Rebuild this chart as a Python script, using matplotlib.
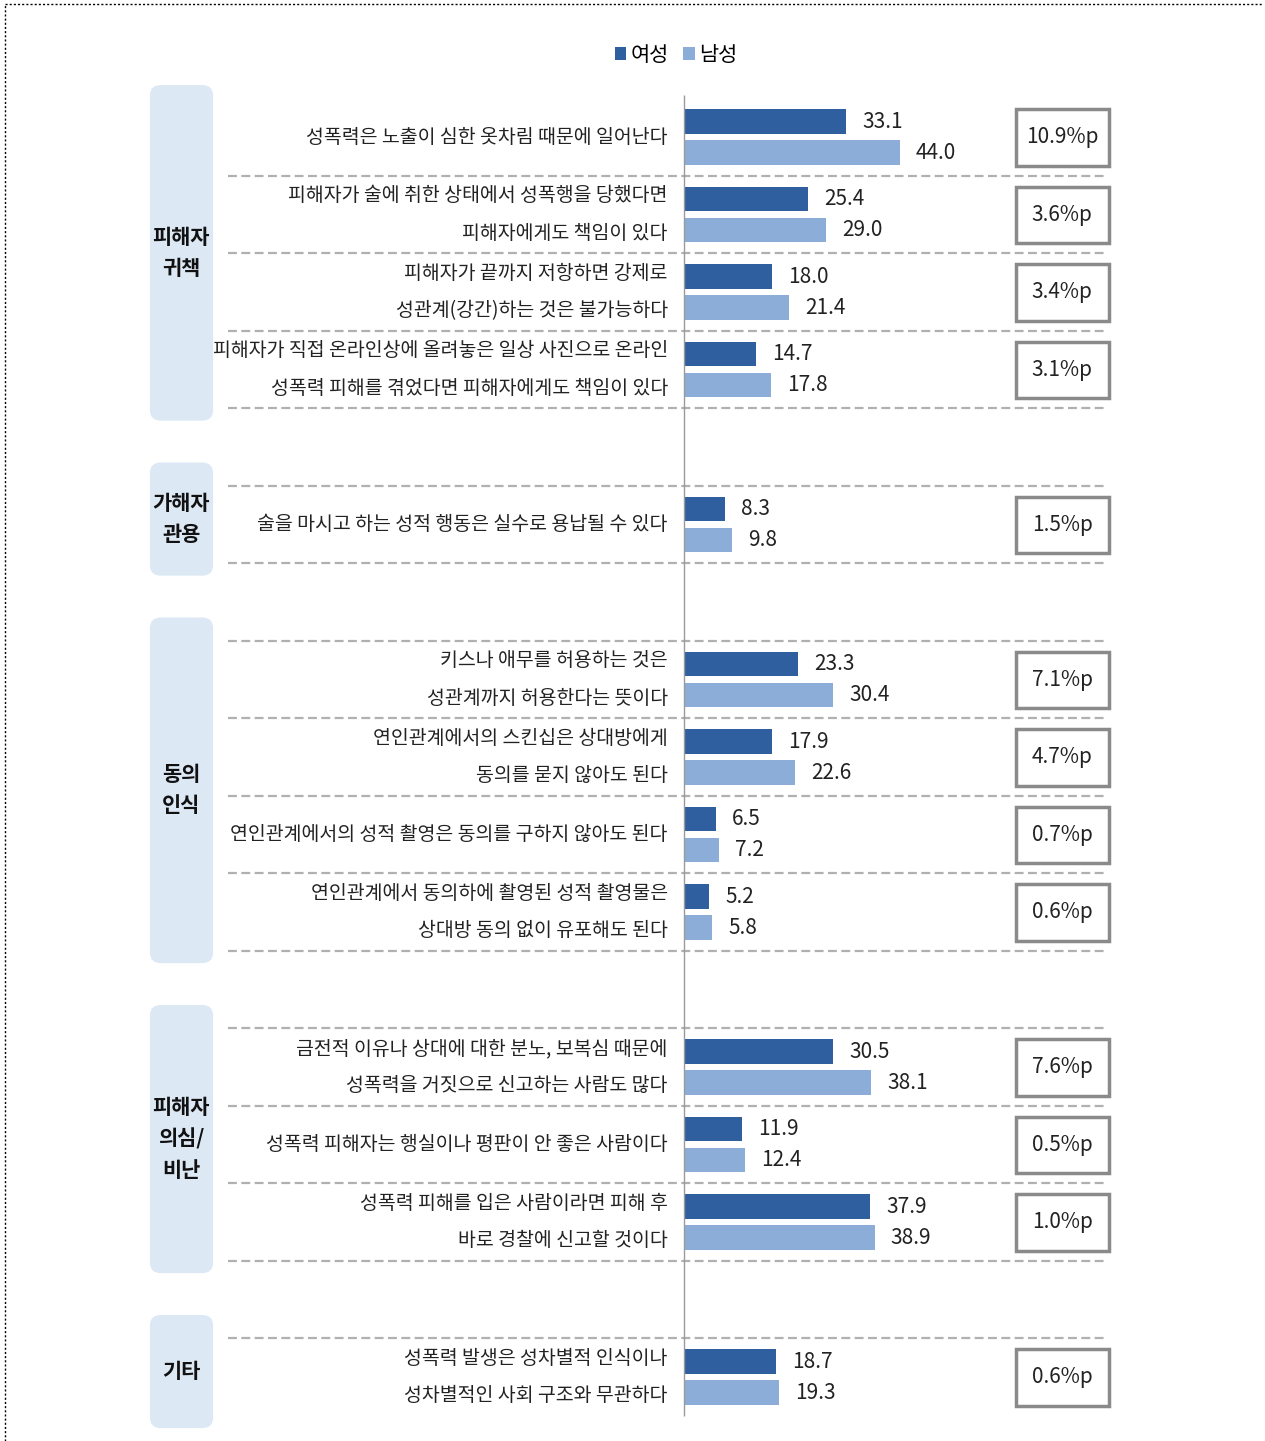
import matplotlib
matplotlib.use("Agg")
import matplotlib.pyplot as plt
from matplotlib.patches import FancyBboxPatch, Rectangle, Patch
from matplotlib.lines import Line2D

plt.rcParams["font.family"] = ["Noto Sans CJK KR", "DejaVu Sans"]

# ---- data ----
groups = ["피해자\n귀책", "가해자\n관용", "동의\n인식", "피해자\n의심/\n비난", "기타"]
group_sizes = [4, 1, 4, 3, 1]
items = [
    "성폭력은 노출이 심한 옷차림 때문에 일어난다",
    "피해자가 술에 취한 상태에서 성폭행을 당했다면\n피해자에게도 책임이 있다",
    "피해자가 끝까지 저항하면 강제로\n성관계(강간)하는 것은 불가능하다",
    "피해자가 직접 온라인상에 올려놓은 일상 사진으로 온라인\n성폭력 피해를 겪었다면 피해자에게도 책임이 있다",
    "술을 마시고 하는 성적 행동은 실수로 용납될 수 있다",
    "키스나 애무를 허용하는 것은\n성관계까지 허용한다는 뜻이다",
    "연인관계에서의 스킨십은 상대방에게\n동의를 묻지 않아도 된다",
    "연인관계에서의 성적 촬영은 동의를 구하지 않아도 된다",
    "연인관계에서 동의하에 촬영된 성적 촬영물은\n상대방 동의 없이 유포해도 된다",
    "금전적 이유나 상대에 대한 분노, 보복심 때문에\n성폭력을 거짓으로 신고하는 사람도 많다",
    "성폭력 피해자는 행실이나 평판이 안 좋은 사람이다",
    "성폭력 피해를 입은 사람이라면 피해 후\n바로 경찰에 신고할 것이다",
    "성폭력 발생은 성차별적 인식이나\n성차별적인 사회 구조와 무관하다",
]
women = [33.1, 25.4, 18.0, 14.7, 8.3, 23.3, 17.9, 6.5, 5.2, 30.5, 11.9, 37.9, 18.7]
men = [44.0, 29.0, 21.4, 17.8, 9.8, 30.4, 22.6, 7.2, 5.8, 38.1, 12.4, 38.9, 19.3]
gaps = ["10.9%p", "3.6%p", "3.4%p", "3.1%p", "1.5%p", "7.1%p", "4.7%p",
        "0.7%p", "0.6%p", "7.6%p", "0.5%p", "1.0%p", "0.6%p"]
series = ["여성", "남성"]

C_W = "#2f5f9f"
C_M = "#8badd8"
C_CAT = "#dde8f5"
C_DASH = "#b0b0b0"

# row positions: one step inside a group, two steps between groups
pos, group_rows, y = [], [], 0
for n in group_sizes:
    rows = list(range(y, y + n))
    group_rows.append(rows)
    pos += rows
    y += n + 1

W, H = 1265, 1441
fig = plt.figure(figsize=(W / 100, H / 100), dpi=100)
ax = fig.add_axes([0, 0, 1, 1])
px_x, px_y, x0, y0 = 4.9, 77.5, 684, 137   # px per unit, zero position
ax.set_xlim(-x0 / px_x, (W - x0) / px_x)
ax.set_ylim((H - y0) / px_y, -y0 / px_y)
ax.axis("off")

bh = 0.32
ax.barh([p - 0.2 for p in pos], women, height=bh, color=C_W, zorder=3)
ax.barh([p + 0.2 for p in pos], men, height=bh, color=C_M, zorder=3)

for p, w, m, lab, g in zip(pos, women, men, items, gaps):
    ax.text(w + 3.3, p - 0.2, f"{w:.1f}", va="center", ha="left", fontsize=15, color="#222222")
    ax.text(m + 3.3, p + 0.2, f"{m:.1f}", va="center", ha="left", fontsize=15, color="#222222")
    lines = lab.split("\n")
    if len(lines) == 1:
        ax.text(-3.3, p, lab, va="center", ha="right", fontsize=14, color="#222222")
    else:
        ax.text(-3.3, p - 0.24, lines[0], va="center", ha="right", fontsize=14, color="#222222")
        ax.text(-3.3, p + 0.24, lines[1], va="center", ha="right", fontsize=14, color="#222222")
    ax.add_patch(Rectangle((67.8, p - 0.36), 18.9, 0.73, fill=False,
                           edgecolor="#8a8a8a", linewidth=2.5, zorder=3))
    ax.text(77.2, p, g, va="center", ha="center", fontsize=15, color="#222222")

# dashed separators
seps = []
for gi, rows in enumerate(group_rows):
    if gi > 0:
        seps.append(rows[0] - 0.5)
    seps += [r + 0.5 for r in rows[:-1]]
    if gi < len(group_rows) - 1:
        seps.append(rows[-1] + 0.5)
ax.hlines(seps, -93.0, 86.5, colors=C_DASH, linestyles=(0, (4, 2)), linewidth=1.6, zorder=2)

# zero axis line
ax.vlines(0, -0.54, pos[-1] + 0.5, colors="#9a9a9a", linewidth=1.0, zorder=4)

# category boxes
for gi, (name, rows) in enumerate(zip(groups, group_rows)):
    top = rows[0] - (0.67 if gi == 0 else 0.8)
    bot = rows[-1] + 0.66
    ax.add_patch(FancyBboxPatch((-109.0, top), 12.9, bot - top,
                                boxstyle="round,pad=0,rounding_size=2.2",
                                mutation_aspect=px_x / px_y,
                                facecolor=C_CAT, edgecolor="none", zorder=1))
    ax.text(-102.6, (top + bot) / 2, name, ha="center", va="center", fontsize=15,
            fontweight="bold", linespacing=1.6, color="#111111")

# legend
handles = [Patch(facecolor=C_W), Patch(facecolor=C_M)]
fig.legend(handles, series, loc="center", bbox_to_anchor=(676 / W, 1 - 55 / H),
           ncol=2, frameon=False, fontsize=15, handlelength=0.55, handleheight=0.55,
           handletextpad=0.2, columnspacing=0.7)

# dotted outer frame (top and left)
fig.add_artist(Line2D([5 / W, 1262 / W], [1 - 4 / H, 1 - 4 / H], transform=fig.transFigure,
                      color="black", linestyle=(0, (1.5, 1.5)), linewidth=1.0))
fig.add_artist(Line2D([5 / W, 5 / W], [0, 1 - 4 / H], transform=fig.transFigure,
                      color="black", linestyle=(0, (1.5, 1.5)), linewidth=1.0))

fig.savefig("out.png", dpi=100)
